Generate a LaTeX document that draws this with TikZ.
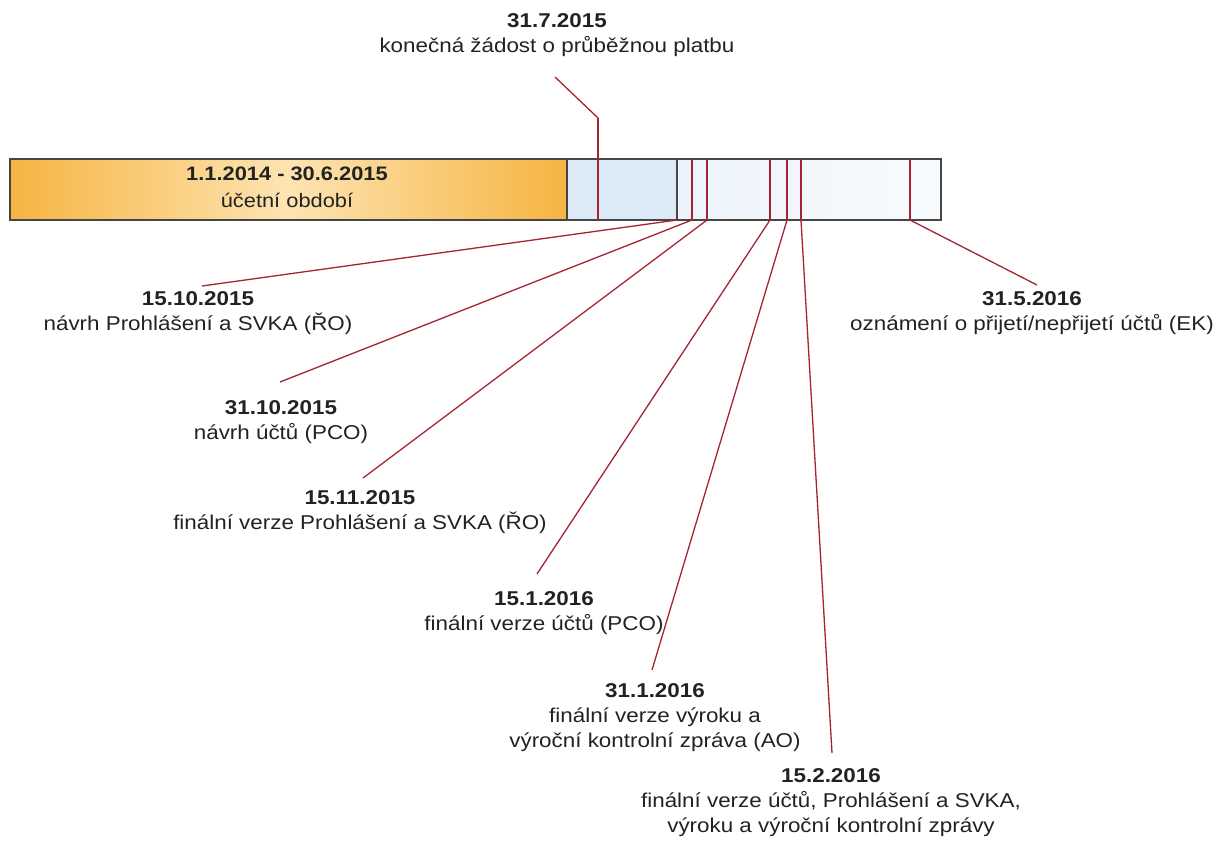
\documentclass[tikz,border=0pt]{standalone}
\usepackage{fontspec}
\setmainfont{Liberation Sans}
\newfontfamily\lblfont[FakeStretch=1.12]{Liberation Sans}
\definecolor{txt}{RGB}{34,34,34}
\definecolor{leadred}{RGB}{165,35,50}
\definecolor{frame}{RGB}{70,70,70}
\definecolor{orangeedge}{RGB}{246,180,66}
\definecolor{orangemid}{RGB}{253,228,178}
\definecolor{blueA}{RGB}{220,234,247}
\definecolor{blueB}{RGB}{236,243,250}
\definecolor{blueC}{RGB}{248,251,254}
\begin{document}
\begin{tikzpicture}[x=1pt,y=-1pt,
  lbl/.style={align=center, anchor=north, inner sep=0pt, text=txt,
    font=\lblfont\fontsize{20}{25}\selectfont},
  barlbl/.style={align=center, anchor=north, inner sep=0pt, text=txt,
    font=\lblfont\fontsize{19.5}{27}\selectfont},
  lead/.style={draw=leadred, line width=1.3pt},
  tickline/.style={draw=leadred, line width=1.5pt}]
\useasboundingbox (0,0) rectangle (1221,841);

% bar
\shade[left color=blueA, right color=blueA] (567,159) rectangle (677,220);
\shade[left color=blueB, right color=blueC] (677,159) rectangle (941,220);
\shade[left color=orangeedge, right color=orangeedge, middle color=orangemid] (10,159) rectangle (567,220);
\draw[frame, line width=1.5pt] (10,159) rectangle (567,220);
\draw[frame, line width=1.5pt] (10,159) rectangle (941,220);
\draw[frame, line width=1.3pt] (677,159) -- (677,220);

\node[barlbl] (bartext) at (287,166.5) {\textbf{1.1.2014 - 30.6.2015}\\účetní období};

% tick coordinates on the bar
\coordinate (t0) at (598,220);
\coordinate (t0b) at (598,118);
\coordinate (t1) at (677,220);
\coordinate (t2) at (692,220);
\coordinate (t3) at (707,220);
\coordinate (t4) at (770,220);
\coordinate (t5) at (787,220);
\coordinate (t6) at (801,220);
\coordinate (t7) at (910,220);
\foreach \x in {692,707,770,787,801,910} \draw[tickline] (\x,159) -- (\x,220);

% label ends
\coordinate (e0) at (555,77);
\coordinate (e1) at (202,286);
\coordinate (e2) at (280,382);
\coordinate (e3) at (363,478);
\coordinate (e4) at (537,574);
\coordinate (e5) at (652,670);
\coordinate (e6) at (832,753);
\coordinate (e7) at (1037,285);

% labels
\node[lbl] (l0) at (557,13.5) {\textbf{31.7.2015}\\konečná žádost o průběžnou platbu};
\node[lbl] (l1) at (198,291.5) {\textbf{15.10.2015}\\návrh Prohlášení a SVKA (ŘO)};
\node[lbl] (l2) at (281,400.5) {\textbf{31.10.2015}\\návrh účtů (PCO)};
\node[lbl] (l3) at (360,490.5) {\textbf{15.11.2015}\\finální verze Prohlášení a SVKA (ŘO)};
\node[lbl] (l4) at (544,591.5) {\textbf{15.1.2016}\\finální verze účtů (PCO)};
\node[lbl] (l5) at (655,683.5) {\textbf{31.1.2016}\\finální verze výroku a\\výroční kontrolní zpráva (AO)};
\node[lbl] (l6) at (831,768.5) {\textbf{15.2.2016}\\finální verze účtů, Prohlášení a SVKA,\\výroku a výroční kontrolní zprávy};
\node[lbl] (l7) at (1032,291.5) {\textbf{31.5.2016}\\oznámení o přijetí/nepřijetí účtů (EK)};

% connectors
\draw[tickline] (t0) -- (t0b);
\draw[lead] (t0b) -- (e0);
\draw[lead] (t1) -- (e1);
\draw[lead] (t2) -- (e2);
\draw[lead] (t3) -- (e3);
\draw[lead] (t4) -- (e4);
\draw[lead] (t5) -- (e5);
\draw[lead] (t6) -- (e6);
\draw[lead] (t7) -- (e7);
\end{tikzpicture}
\end{document}
